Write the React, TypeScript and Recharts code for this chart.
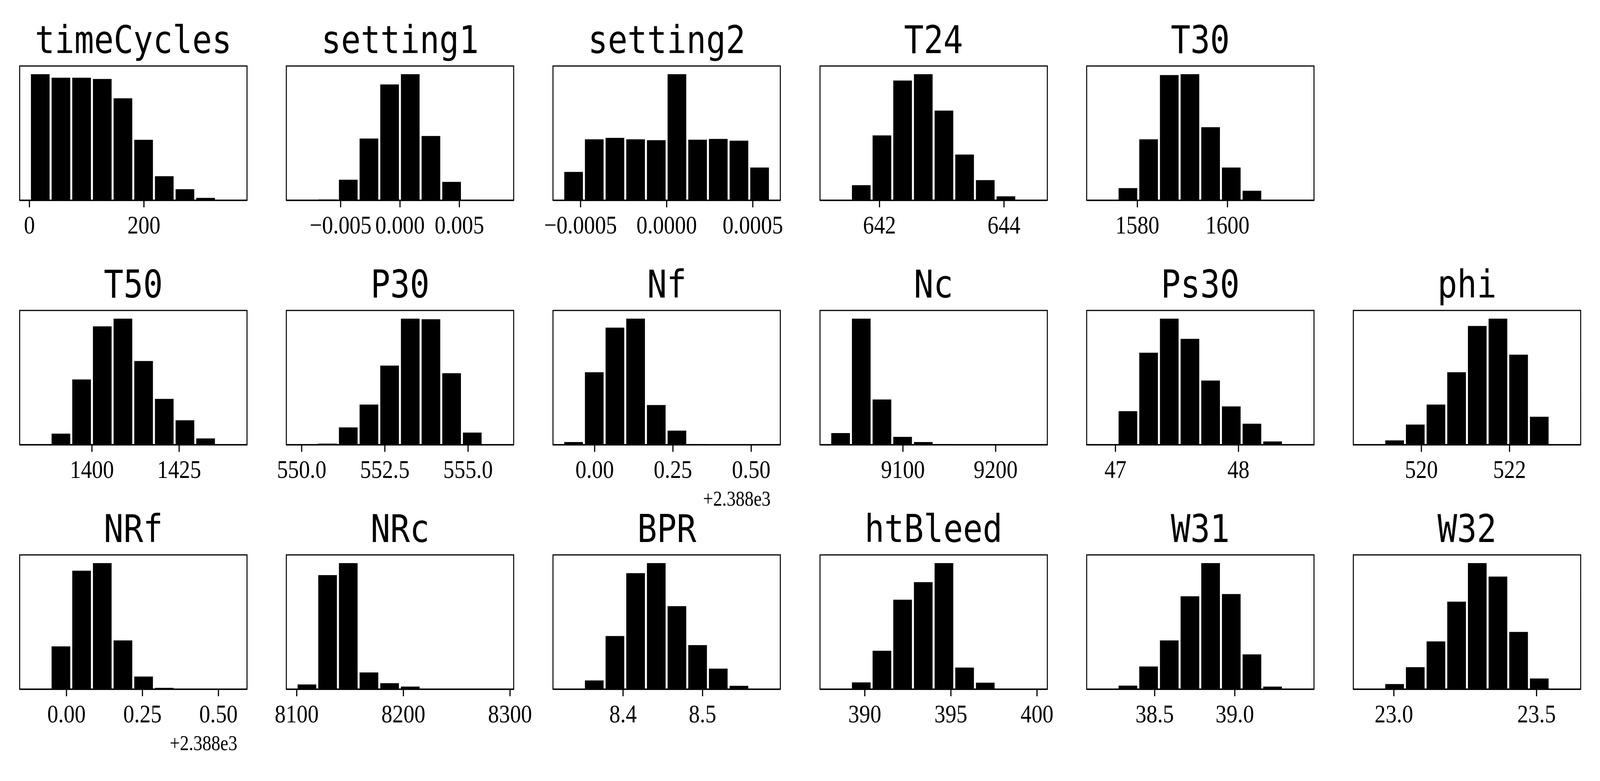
import { Bar, BarChart, Label, ReferenceArea, XAxis, YAxis } from 'recharts'

// bar heights, as % of the tallest bin in each panel
const timeCycles = [100, 97.2, 97.2, 96.2, 80.9, 48.0, 19.1, 8.8, 1.9, 0.3]
const setting1 = [0.1, 0.7, 16.3, 49.0, 91.9, 100, 51.0, 14.6, 0.4, 0.05]
const setting2 = [22.5, 48.4, 49.5, 48.4, 47.7, 100, 48.1, 48.7, 47.3, 26.0]
const T24 = [0.05, 12.0, 51.5, 95.0, 100, 71.1, 36.3, 16.0, 3.2, 0.1]
const T30 = [0.05, 9.7, 48.4, 99.3, 100, 58.0, 26.0, 7.6, 0.2, 0.05]
const T50 = [0.05, 8.8, 51.8, 93.9, 100, 66.4, 36.4, 19.4, 5.0, 0.1]
const P30 = [0.05, 0.9, 13.8, 31.9, 62.8, 100, 99.5, 56.7, 9.7, 0.1]
const Nf = [2.2, 57.5, 92.9, 100, 31.5, 11.2, 0.5, 0.05, 0.02, 0.02]
const Nc = [9.3, 100, 35.9, 6.3, 2.2, 0.5, 0.1, 0.05, 0.02, 0.02]
const Ps30 = [0.2, 26.6, 73.0, 100, 84.0, 50.9, 30.4, 16.7, 2.6, 0.05]
const phi = [0.05, 3.5, 16.0, 31.9, 57.5, 94.2, 100, 71.4, 22.2, 0.2]
const NRf = [0.05, 34.0, 94.0, 100, 38.7, 10.1, 1.1, 0.05, 0.02, 0.02]
const NRc = [3.8, 90.5, 100, 13.3, 4.8, 2.1, 0.1, 0.05, 0.02, 0.02]
const BPR = [0.05, 7.0, 42.2, 92.0, 100, 65.9, 35.0, 16.3, 2.7, 0.05]
const htBleed = [0.05, 5.4, 30.5, 71.0, 84.9, 100, 17.2, 5.2, 0.1, 0.05]
const W31 = [0.05, 2.9, 18.0, 38.7, 73.7, 100, 75.5, 27.6, 2.1, 0.05]
const W32 = [0.05, 4.1, 17.5, 37.9, 69.4, 100, 89.3, 45.4, 8.5, 0.05]

// min / max of each column (bin range)
const ranges: Record<string, [number, number]> = {
  timeCycles: [1, 362],
  setting1: [-0.0087, 0.0087],
  setting2: [-0.0006, 0.0006],
  T24: [641.21, 644.53],
  T30: [1571.04, 1616.91],
  T50: [1382.25, 1441.49],
  P30: [549.85, 556.06],
  Nf: [2387.9, 2388.56],
  Nc: [9021.73, 9244.59],
  Ps30: [46.85, 48.53],
  phi: [518.69, 523.38],
  NRf: [2387.88, 2388.56],
  NRc: [8099.94, 8293.72],
  BPR: [8.3249, 8.5848],
  htBleed: [388, 400],
  W31: [38.14, 39.43],
  W32: [22.8942, 23.6184],
}

const ticks: Record<string, number[]> = {
  timeCycles: [0, 200],
  setting1: [-0.005, 0, 0.005],
  setting2: [-0.0005, 0, 0.0005],
  T24: [642, 644],
  T30: [1580, 1600],
  T50: [1400, 1425],
  P30: [550, 552.5, 555],
  Nf: [2388, 2388.25, 2388.5],
  Nc: [9100, 9200],
  Ps30: [47, 48],
  phi: [520, 522],
  NRf: [2388, 2388.25, 2388.5],
  NRc: [8100, 8200, 8300],
  BPR: [8.4, 8.5],
  htBleed: [390, 395, 400],
  W31: [38.5, 39.0],
  W32: [23.0, 23.5],
}

const tickLabels: Record<string, string[]> = {
  timeCycles: ['0', '200'],
  setting1: ['\u22120.005', '0.000', '0.005'],
  setting2: ['\u22120.0005', '0.0000', '0.0005'],
  T24: ['642', '644'],
  T30: ['1580', '1600'],
  T50: ['1400', '1425'],
  P30: ['550.0', '552.5', '555.0'],
  Nf: ['0.00', '0.25', '0.50'],
  Nc: ['9100', '9200'],
  Ps30: ['47', '48'],
  phi: ['520', '522'],
  NRf: ['0.00', '0.25', '0.50'],
  NRc: ['8100', '8200', '8300'],
  BPR: ['8.4', '8.5'],
  htBleed: ['390', '395', '400'],
  W31: ['38.5', '39.0'],
  W32: ['23.0', '23.5'],
}

const offsets: Record<string, string> = { Nf: '+2.388e3', NRf: '+2.388e3' }

const grid: [string, number[]][] = [
  ['timeCycles', timeCycles], ['setting1', setting1], ['setting2', setting2],
  ['T24', T24], ['T30', T30],
  ['T50', T50], ['P30', P30], ['Nf', Nf], ['Nc', Nc], ['Ps30', Ps30], ['phi', phi],
  ['NRf', NRf], ['NRc', NRc], ['BPR', BPR], ['htBleed', htBleed], ['W31', W31], ['W32', W32],
]
const rowOf = [0, 0, 0, 0, 0, 1, 1, 1, 1, 1, 1, 2, 2, 2, 2, 2, 2]
const colOf = [0, 1, 2, 3, 4, 0, 1, 2, 3, 4, 5, 0, 1, 2, 3, 4, 5]

// layout is done on a 4800x2000 canvas, then fitted to the window
const W = 4800
const H = 2000
const BOX_W = 682
const BOX_H = 344
const PAD = 90
const TOP = 10
const AXIS_H = 185
const Y_MAX = 106.5

function Hist({ name, counts }: { name: string; counts: number[] }) {
  const [lo, hi] = ranges[name]
  const r = hi - lo
  const x0 = lo - 0.05 * r
  const x1 = hi + 0.05 * r
  const data = counts.map((c, i) => ({ bin: i, x: lo + ((i + 0.5) * r) / counts.length, count: c }))
  const labels = tickLabels[name]
  const tv = ticks[name]
  const fmt = (v: number) => labels[tv.findIndex((t) => Math.abs(t - v) < r * 1e-6)] ?? ''
  const pad = (BOX_W * 0.05) / 1.1
  return (
    <BarChart
      width={BOX_W + 2 * PAD}
      height={TOP + BOX_H + AXIS_H}
      data={data}
      margin={{ top: TOP, right: PAD, bottom: 0, left: PAD }}
      barCategoryGap="4.5%"
    >
      <XAxis
        xAxisId="val"
        dataKey="x"
        type="number"
        domain={[x0, x1]}
        allowDataOverflow
        ticks={tv}
        interval={0}
        tickFormatter={fmt}
        height={AXIS_H}
        axisLine={{ stroke: '#000', strokeWidth: 3.5 }}
        tickLine={{ stroke: '#000', strokeWidth: 3.5 }}
        tickSize={18}
        tickMargin={20}
        tick={{ fontSize: 66, fontFamily: 'Liberation Serif', fill: '#000' }}
      >
        {offsets[name] && (
          <Label
            value={offsets[name]}
            position="insideBottomRight"
            offset={AXIS_H - 156}
            style={{ fontSize: 54, fontFamily: 'Liberation Serif', fill: '#000' }}
          />
        )}
      </XAxis>
      <XAxis
        xAxisId="bins"
        dataKey="bin"
        type="category"
        hide
        height={0}
        padding={{ left: pad, right: pad }}
      />
      <YAxis yAxisId="left" domain={[0, Y_MAX]} allowDataOverflow hide />
      <Bar
        xAxisId="bins"
        yAxisId="left"
        dataKey="count"
        fill="#000"
        isAnimationActive={false}
      />
      <ReferenceArea
        xAxisId="val"
        yAxisId="left"
        x1={x0}
        x2={x1}
        y1={0}
        y2={Y_MAX}
        fill="none"
        fillOpacity={0}
        stroke="#000"
        strokeWidth={3}
        ifOverflow="visible"
      />
    </BarChart>
  )
}

export default function App() {
  const sx = typeof window !== 'undefined' ? window.innerWidth / W : 1
  const sy = typeof window !== 'undefined' ? window.innerHeight / H : 1
  return (
    <div
      style={{
        position: 'absolute',
        left: 0,
        top: 0,
        width: W,
        height: H,
        overflow: 'hidden',
        background: '#fff',
        transform: `scale(${sx}, ${sy})`,
        transformOrigin: '0 0',
      }}
    >
      {grid.map(([name, counts], i) => {
        const boxLeft = 59 + 800.2 * colOf[i]
        const boxTop = 169 + 626 * rowOf[i]
        return (
          <div key={name}>
            <div
              style={{
                position: 'absolute',
                left: boxLeft,
                top: boxTop - 116,
                width: BOX_W,
                textAlign: 'center',
                fontFamily: 'DejaVu Sans Mono',
                fontSize: 98,
                lineHeight: '98px',
                color: '#000',
                whiteSpace: 'nowrap',
              }}
            >
              {name}
            </div>
            <div style={{ position: 'absolute', left: boxLeft - PAD, top: boxTop - TOP }}>
              <Hist name={name} counts={counts} />
            </div>
          </div>
        )
      })}
    </div>
  )
}
